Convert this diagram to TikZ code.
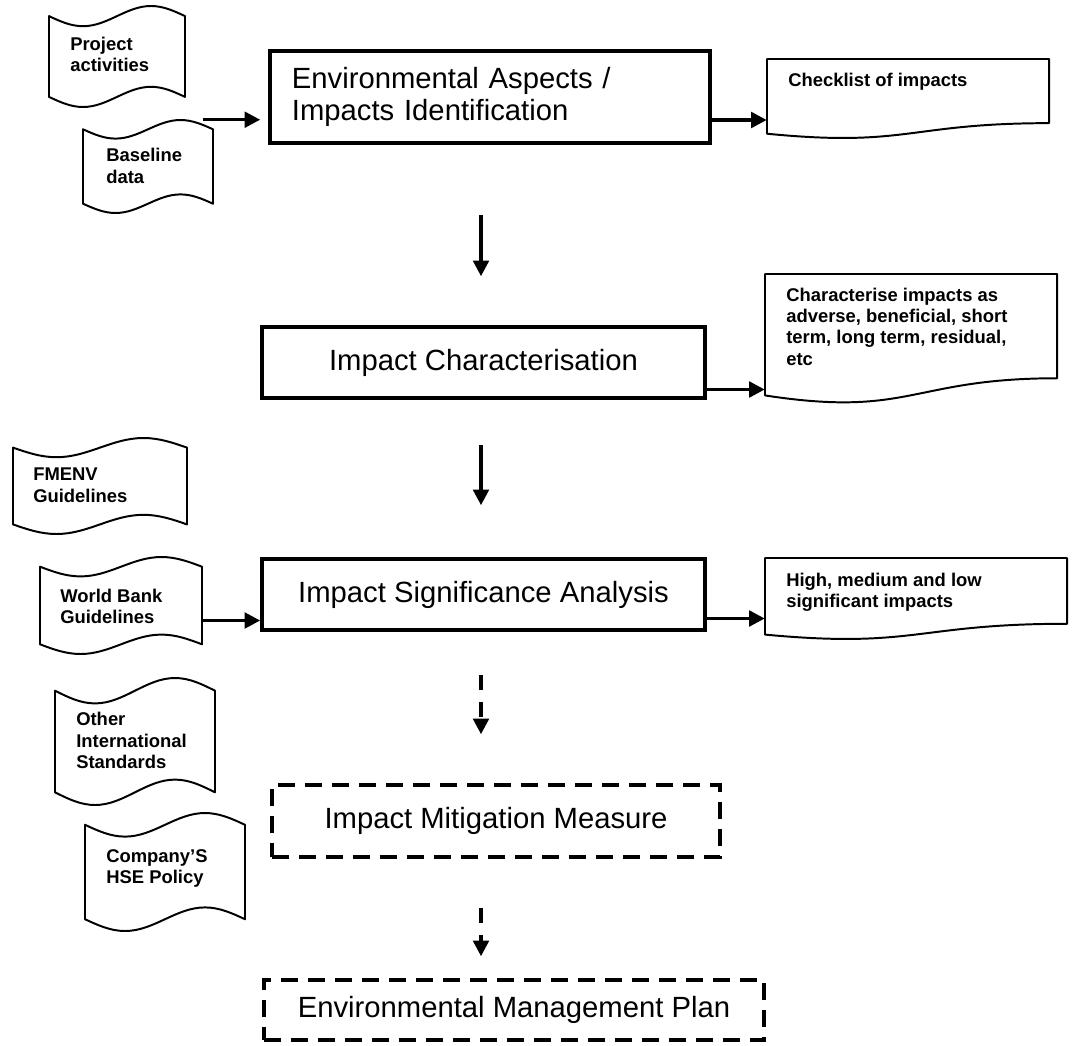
\documentclass[tikz,border=0pt]{standalone}
\usepackage{fontspec}
\setmainfont{Liberation Sans}
\usetikzlibrary{arrows.meta,calc,fit}

\tikzset{
  stage/.style={draw, line width=2.5pt, inner sep=0pt, font=\fontsize{20.8}{22.7}\selectfont},
  plan/.style={stage, dash pattern=on 0.425cm off 0.25cm},
  docline/.style={line width=1.4pt, line join=round},
  doctext/.style={inner sep=0pt, align=left, font=\bfseries\fontsize{13.1}{14.94}\selectfont},
  flow/.style={line width=2.4pt, -{Triangle[length=0.39cm,width=0.39cm]}},
  dflow/.style={flow, dash pattern=on 0.375cm off 0.3cm},
}

% punched tape: wavy top and bottom, #1 name, #2 #3 top left, #4 #5 size,
% #6 #7 offset of the last text line, #8 text
\newcommand{\tapedoc}[8]{%
  \draw[docline] (#2,#3+0.1*#5) sin (#2+0.25*#4,#3+0.2*#5) cos (#2+0.5*#4,#3+0.1*#5)
    sin (#2+0.75*#4,#3) cos (#2+#4,#3+0.1*#5) -- (#2+#4,#3+0.9*#5)
    sin (#2+0.75*#4,#3+0.8*#5) cos (#2+0.5*#4,#3+0.9*#5)
    sin (#2+0.25*#4,#3+#5) cos (#2,#3+0.9*#5) -- cycle;%
  \node[fit={(#2,#3) (#2+#4,#3+#5)}, inner sep=0pt] (#1) {};%
  \node[doctext, anchor=base west] (#1-text) at (#2+#6,#3+#7) {#8};%
}

% document: flat top, wavy bottom, same arguments
\newcommand{\paperdoc}[8]{%
  \draw[docline] (#2,#3) -- (#2+#4,#3) -- (#2+#4,#3+0.802*#5)
    .. controls (#2+0.5*#4,#3+0.802*#5) and (#2+0.5*#4,#3+1.107*#5) .. (#2,#3+0.934*#5) -- cycle;%
  \node[fit={(#2,#3) (#2+#4,#3+#5)}, inner sep=0pt] (#1) {};%
  \node[doctext, anchor=base west] (#1-text) at (#2+#6,#3+#7) {#8};%
}

\begin{document}
\begin{tikzpicture}[x=0.025cm,y=-0.025cm]
  \useasboundingbox (0,0) rectangle (1075,1045);

  % Drawing main stages
  \node[stage, minimum width=11cm, minimum height=2.3cm, text width=9.9cm, align=left] (aspects) at (490,97) {Environmental Aspects /\\Impacts Identification};
  \node[stage, minimum width=11.075cm, minimum height=1.775cm] (charac) at (483.5,362.5) {Impact Characterisation};
  \node[stage, minimum width=11.075cm, minimum height=1.775cm] (signif) at (483.5,594.5) {Impact Significance Analysis};
  \node[plan, minimum width=11.2cm, minimum height=1.8cm] (mitig) at (496,821) {Impact Mitigation Measure};
  \node[plan, minimum width=12.5cm, minimum height=1.5cm] (emp) at (514,1010) {Environmental Management Plan};

  % Drawing inputs on the left
  \tapedoc{projact}{49}{6}{136}{101}{21}{66}{Project\\activities}
  \tapedoc{basedata}{83}{120}{130}{93}{23}{63}{Baseline\\data}
  \tapedoc{fmenv}{13}{438}{174}{96}{20}{64}{FMENV\\Guidelines}
  \tapedoc{wbank}{40}{557}{162}{97}{20}{66}{World Bank\\Guidelines}
  \tapedoc{otherstd}{55}{678}{160}{127}{21}{90}{Other\\International\\Standards}
  \tapedoc{hsepol}{85}{813}{160}{118}{21}{70}{Company’S\\HSE Policy}

  % Drawing outputs on the right
  \paperdoc{checklist}{767}{59}{282}{80}{21}{27}{Checklist of impacts}
  \paperdoc{charlist}{765}{274}{292}{130}{21}{91}{Characterise impacts as\\adverse, beneficial, short\\term, long term, residual,\\etc}
  \paperdoc{sigrank}{765}{558}{302}{82}{21}{49}{High, medium and low\\significant impacts}

  % Drawing arrows in and out
  \draw[flow, shorten >=0.2cm] ($(basedata.north east)+(-10,0)$) coordinate (bfeed) -- (bfeed -| aspects.west);
  \draw[flow] ($(aspects.east)+(0,23)$) coordinate (out1) -- (out1 -| checklist.west);
  \draw[flow] ($(charac.east)+(0,27)$) coordinate (out2) -- (out2 -| charlist.west);
  \draw[flow] ($(signif.east)+(0,24)$) coordinate (out3) -- (out3 -| sigrank.west);
  \draw[flow] ($(wbank.east)+(0,15)$) coordinate (wfeed) -- (wfeed -| signif.west);

  % Drawing arrows down the chain
  \coordinate (axis) at (481,0);
  \draw[flow, shorten <=1.75cm, shorten >=1.225cm] (aspects.south -| axis) -- (charac.north -| axis);
  \draw[flow, shorten <=1.125cm, shorten >=1.3cm] (charac.south -| axis) -- (signif.north -| axis);
  \draw[dflow, shorten <=1.075cm, shorten >=1.225cm] (signif.south -| axis) -- (mitig.north -| axis);
  \draw[dflow, shorten <=1.225cm, shorten >=0.55cm] (mitig.south -| axis) -- (emp.north -| axis);
\end{tikzpicture}
\end{document}
